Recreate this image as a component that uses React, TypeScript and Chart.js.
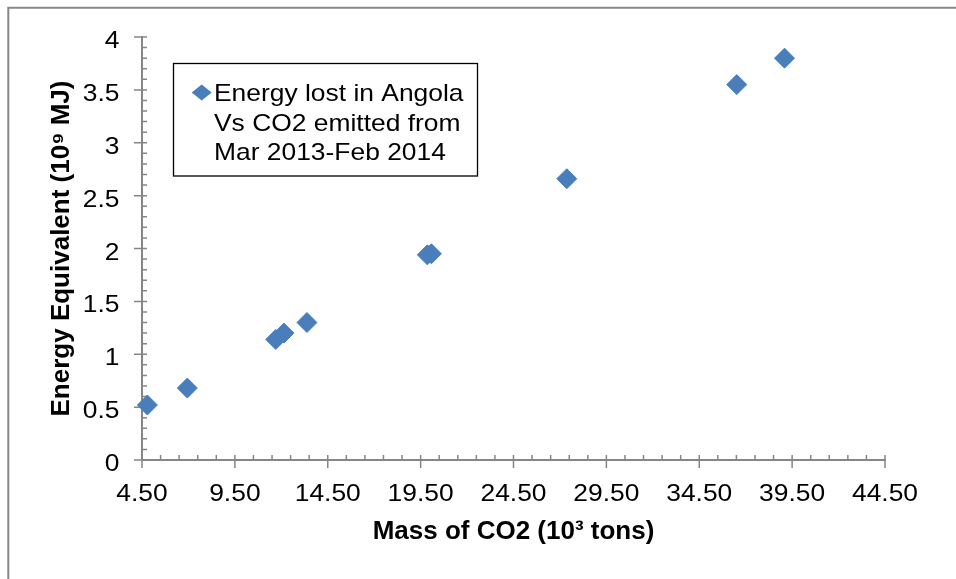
import React, { useEffect, useRef } from "react";
import { Chart, registerables } from "chart.js";

Chart.register(...registerables);

// ---------- data ----------
const LEGEND_LINES = ["Energy lost in Angola", "Vs CO2 emitted from", "Mar 2013-Feb 2014"];
const CO2_MASS = [4.79, 6.94, 11.7, 12.14, 13.38, 19.86, 20.08, 27.37, 36.52, 39.09];
const ENERGY = [0.52, 0.68, 1.14, 1.2, 1.3, 1.94, 1.95, 2.66, 3.55, 3.8];
const X_TICKS = [4.5, 9.5, 14.5, 19.5, 24.5, 29.5, 34.5, 39.5, 44.5];
const Y_TICKS = [0, 0.5, 1, 1.5, 2, 2.5, 3, 3.5, 4];
const X_TITLE = "Mass of CO2 (10³ tons)";
const Y_TITLE = "Energy Equivalent (10⁹ MJ)";

// ---------- style ----------
const W = 956;
const H = 579;
const BLUE = "#4A7EBB";
const AXIS = "#868686";
const FONT = "'Liberation Sans', Arial, sans-serif";
const TEXT_STRETCH = 1.1;
const X_MINOR_STEP = 1;
const Y_MINOR_STEP = 0.1;

function stretchText(ctx: CanvasRenderingContext2D, text: string, x: number, y: number, align: CanvasTextAlign) {
  ctx.save();
  ctx.translate(x, y);
  ctx.scale(TEXT_STRETCH, 1);
  ctx.textAlign = align;
  ctx.textBaseline = "alphabetic";
  ctx.fillText(text, 0, 0);
  ctx.restore();
}

const framePlugin = {
  id: "frame",
  beforeDraw(chart: any) {
    const ctx = chart.ctx as CanvasRenderingContext2D;
    ctx.save();
    ctx.strokeStyle = "#888888";
    ctx.lineWidth = 2;
    ctx.beginPath();
    ctx.moveTo(8.3, H + 2);
    ctx.lineTo(8.3, 7.7);
    ctx.lineTo(W + 2, 7.7);
    ctx.stroke();
    ctx.restore();
  },
};

const axisPlugin = {
  id: "excelAxes",
  beforeDatasetsDraw(chart: any) {
    const ctx = chart.ctx as CanvasRenderingContext2D;
    const xs = chart.scales.x;
    const ys = chart.scales.y;
    const x0 = xs.getPixelForValue(xs.min);
    const y0 = ys.getPixelForValue(ys.min);
    ctx.save();
    ctx.strokeStyle = AXIS;
    ctx.lineWidth = 1.5;
    ctx.beginPath();
    // y minor ticks (inside, to the right)
    const ny = Math.round((ys.max - ys.min) / Y_MINOR_STEP);
    for (let i = 0; i <= ny; i++) {
      const py = ys.getPixelForValue(ys.min + i * Y_MINOR_STEP);
      ctx.moveTo(x0, py);
      ctx.lineTo(x0 + 5, py);
    }
    // y major ticks (cross)
    Y_TICKS.forEach((v) => {
      const py = ys.getPixelForValue(v);
      ctx.moveTo(x0 - 8, py);
      ctx.lineTo(x0 + 5, py);
    });
    // x minor ticks (inside, upward)
    const nx = Math.round((xs.max - xs.min) / X_MINOR_STEP);
    for (let i = 0; i <= nx; i++) {
      const px = xs.getPixelForValue(xs.min + i * X_MINOR_STEP);
      ctx.moveTo(px, y0);
      ctx.lineTo(px, y0 - 5);
    }
    // x major ticks (cross)
    X_TICKS.forEach((v) => {
      const px = xs.getPixelForValue(v);
      ctx.moveTo(px, y0 - 5);
      ctx.lineTo(px, y0 + 8);
    });
    ctx.stroke();

    // tick labels
    ctx.fillStyle = "#000000";
    ctx.font = `24px ${FONT}`;
    Y_TICKS.forEach((v) => {
      const py = ys.getPixelForValue(v);
      stretchText(ctx, String(v), x0 - 22.5, py + 11, "right");
    });
    X_TICKS.forEach((v) => {
      const px = xs.getPixelForValue(v);
      stretchText(ctx, v.toFixed(2), px, y0 + 41, "center");
    });
    ctx.restore();
  },
};

const legendPlugin = {
  id: "floatingLegend",
  afterDraw(chart: any) {
    const ctx = chart.ctx as CanvasRenderingContext2D;
    ctx.save();
    ctx.strokeStyle = "#000000";
    ctx.lineWidth = 1.3;
    ctx.strokeRect(173.5, 63.5, 304, 112.5);
    // marker
    const mx = 201.7;
    const my = 92.5;
    ctx.fillStyle = BLUE;
    ctx.beginPath();
    ctx.moveTo(mx - 10, my);
    ctx.lineTo(mx, my - 8);
    ctx.lineTo(mx + 10, my);
    ctx.lineTo(mx, my + 8);
    ctx.closePath();
    ctx.fill();
    ctx.fillStyle = "#000000";
    ctx.font = `24px ${FONT}`;
    const baselines = [100.5, 130.5, 159.5];
    LEGEND_LINES.forEach((t, i) => stretchText(ctx, t, 214, baselines[i], "left"));
    ctx.restore();
  },
};

export default function App() {
  const canvasRef = useRef<HTMLCanvasElement | null>(null);

  useEffect(() => {
    document.body.style.margin = "0";
    const canvas = canvasRef.current;
    if (!canvas) return;
    const chart = new Chart(canvas, {
      type: "scatter",
      data: {
        datasets: [
          {
            label: LEGEND_LINES.join(" "),
            data: CO2_MASS.map((x, i) => ({ x, y: ENERGY[i] })),
            pointStyle: "rectRot",
            pointRadius: 10,
            pointHoverRadius: 10,
            backgroundColor: BLUE,
            borderColor: BLUE,
            borderWidth: 1,
            clip: false as any,
          },
        ],
      },
      options: {
        animation: false,
        responsive: false,
        devicePixelRatio: 1,
        events: [],
        layout: { padding: { left: 0, top: 37, right: 71, bottom: 0 } },
        plugins: {
          legend: { display: false },
          tooltip: { enabled: false },
        },
        scales: {
          x: {
            type: "linear",
            min: X_TICKS[0],
            max: X_TICKS[X_TICKS.length - 1],
            afterBuildTicks: (s: any) => {
              s.ticks = X_TICKS.map((v) => ({ value: v }));
            },
            afterFit: (s: any) => {
              s.height = 119;
            },
            ticks: { display: false },
            grid: { display: true, drawOnChartArea: false, drawTicks: false },
            border: { display: true, color: AXIS, width: 2 },
            title: {
              display: true,
              text: X_TITLE,
              color: "#000000",
              font: { family: FONT, size: 26, weight: "bold", lineHeight: 1.2 },
              padding: { top: 0, bottom: 32 },
            },
          },
          y: {
            type: "linear",
            min: Y_TICKS[0],
            max: Y_TICKS[Y_TICKS.length - 1],
            afterBuildTicks: (s: any) => {
              s.ticks = Y_TICKS.map((v) => ({ value: v }));
            },
            afterFit: (s: any) => {
              s.width = 142;
            },
            ticks: { display: false },
            grid: { display: true, drawOnChartArea: false, drawTicks: false },
            border: { display: true, color: AXIS, width: 2 },
            title: {
              display: true,
              text: Y_TITLE,
              color: "#000000",
              font: { family: FONT, size: 26, weight: "bold", lineHeight: 1.2 },
              padding: { top: 46.4, bottom: 0 },
            },
          },
        },
      },
      plugins: [framePlugin, axisPlugin, legendPlugin],
    });
    return () => chart.destroy();
  }, []);

  return (
    <div style={{ width: W, height: H, background: "#ffffff" }}>
      <canvas ref={canvasRef} width={W} height={H} style={{ display: "block" }} />
    </div>
  );
}
